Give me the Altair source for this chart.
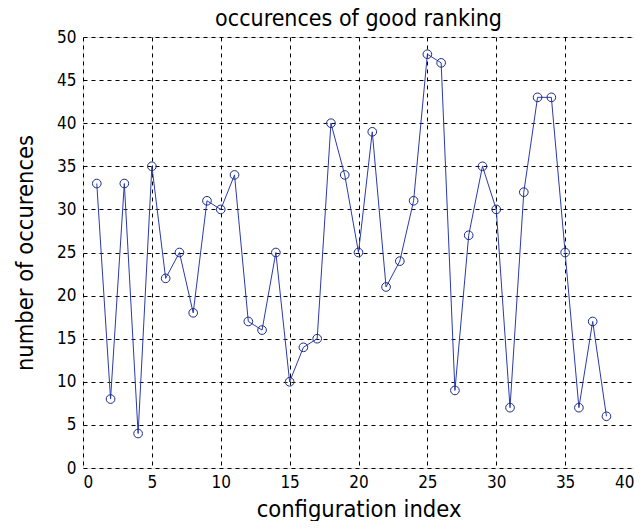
import altair as alt
import pandas as pd

config_index = list(range(1, 39))
occurrences = [33, 8, 33, 4, 35, 22, 25, 18, 31, 30, 34, 17, 16, 25, 10, 14, 15, 40, 34, 25,
               39, 21, 24, 31, 48, 47, 9, 27, 35, 30, 7, 32, 43, 43, 25, 7, 17, 6]
x_ticks = [0, 5, 10, 15, 20, 25, 30, 35, 40]
y_ticks = [0, 5, 10, 15, 20, 25, 30, 35, 40, 45, 50]

df = pd.DataFrame({"idx": config_index, "occ": occurrences})

FONT = "DejaVu Sans Condensed"
LFONT = "Liberation Sans Narrow, DejaVu Sans Condensed"

x = alt.X("idx:Q", scale=alt.Scale(domain=[0, 40], nice=False),
          axis=alt.Axis(values=x_ticks, title="configuration index", grid=True,
                        gridColor="black", gridDash=[4, 4], gridOpacity=1, gridWidth=1,
                        ticks=False, domain=False, labelPadding=6,
                        labelFontSize=17, labelFont=LFONT, labelColor="black",
                        titleFontSize=23.5, titleFont=FONT, titleFontWeight="normal",
                        titleColor="black", titlePadding=7))
y = alt.Y("occ:Q", scale=alt.Scale(domain=[0, 50], nice=False),
          axis=alt.Axis(values=y_ticks, title="number of occurences", grid=True,
                        gridColor="black", gridDash=[4, 4], gridOpacity=1, gridWidth=1,
                        ticks=False, domain=False, labelPadding=7,
                        labelFontSize=17, labelFont=LFONT, labelColor="black",
                        titleFontSize=23.5, titleFont=FONT, titleFontWeight="normal",
                        titleColor="black", titlePadding=19))

line = alt.Chart(df).mark_line(color="#2a3aac", strokeWidth=1).encode(x=x, y=y)
pts = alt.Chart(df).mark_point(shape="circle", filled=False, color="#1a2a8a",
                               size=75, strokeWidth=1, opacity=1).encode(x=x, y=y)

chart = (line + pts).properties(
    width=551, height=431,
    title=alt.TitleParams("occurences of good ranking", fontSize=23, font=FONT,
                          fontWeight="normal", color="black", offset=-3, frame="group"),
    autosize=alt.AutoSizeParams(type="none"),
    padding={"left": 75, "top": 29, "right": 0, "bottom": 53},
).configure_view(stroke="black", strokeWidth=1).configure(background="white")

chart.save("out.html", embed_options={"renderer": "svg", "actions": False})
